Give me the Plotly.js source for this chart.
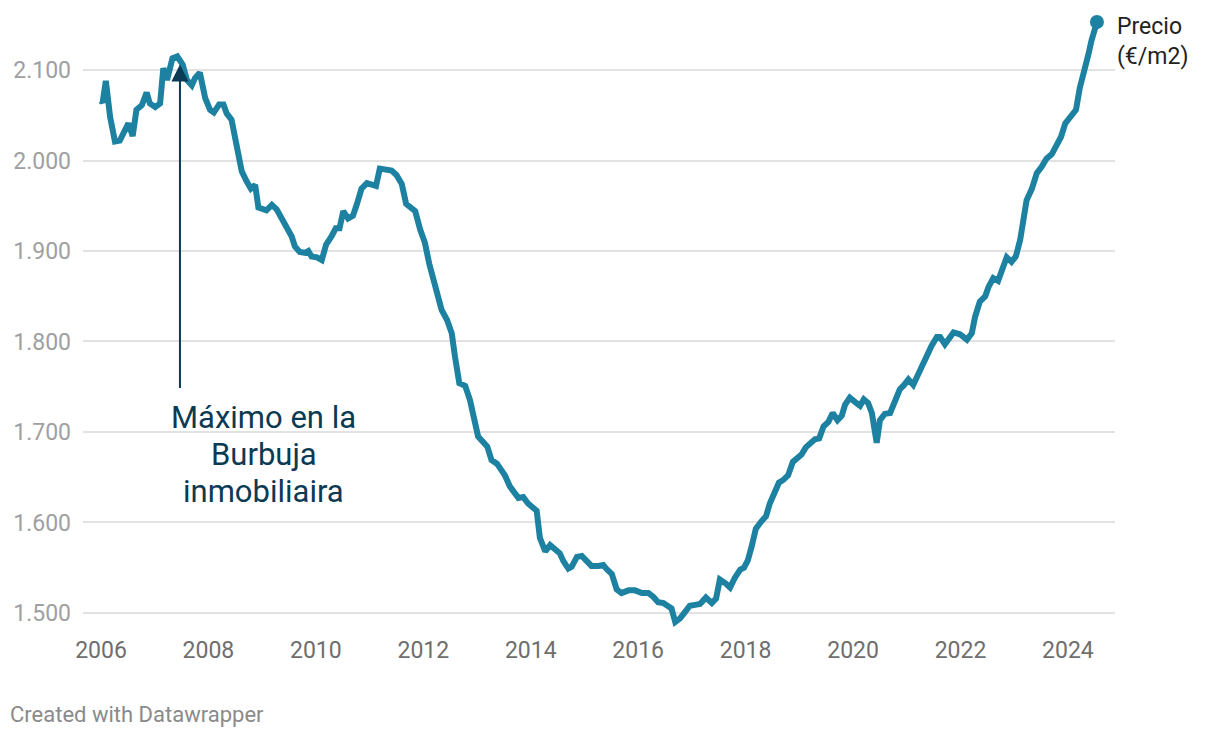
<!DOCTYPE html>
<html>
<head>
<meta charset="utf-8">
<script src="https://cdn.plot.ly/plotly-3.0.1.min.js"></script>
<style>
  html, body { margin: 0; padding: 0; background: #fff; }
  #chart { width: 1220px; height: 738px; }
</style>
</head>
<body>
<div id="chart"></div>
<script>
// Fecha (año decimal) y precio (€/m2)
const fechas = [
  2006.00, 2006.03, 2006.09, 2006.17, 2006.26, 2006.35, 2006.51, 2006.59, 2006.66, 2006.76,
  2006.85, 2006.91, 2007.01, 2007.10, 2007.16, 2007.23, 2007.33, 2007.42, 2007.52, 2007.60,
  2007.69, 2007.75, 2007.84, 2007.94, 2008.03, 2008.10, 2008.20, 2008.28, 2008.34, 2008.43,
  2008.53, 2008.62, 2008.71, 2008.79, 2008.87, 2008.93, 2009.08, 2009.18, 2009.27, 2009.39,
  2009.49, 2009.55, 2009.61, 2009.70, 2009.80, 2009.86, 2009.92, 2010.02, 2010.11, 2010.19,
  2010.29, 2010.37, 2010.44, 2010.51, 2010.60, 2010.69, 2010.76, 2010.85, 2010.95, 2011.04,
  2011.12, 2011.19, 2011.32, 2011.41, 2011.50, 2011.60, 2011.68, 2011.85, 2011.94, 2012.03,
  2012.11, 2012.19, 2012.25, 2012.34, 2012.44, 2012.53, 2012.59, 2012.67, 2012.78, 2012.87,
  2013.02, 2013.12, 2013.19, 2013.27, 2013.37, 2013.52, 2013.61, 2013.77, 2013.86, 2013.95,
  2014.11, 2014.17, 2014.27, 2014.36, 2014.45, 2014.54, 2014.61, 2014.70, 2014.76, 2014.86,
  2014.95, 2015.04, 2015.13, 2015.26, 2015.35, 2015.42, 2015.51, 2015.60, 2015.69, 2015.82,
  2015.94, 2016.07, 2016.19, 2016.28, 2016.37, 2016.47, 2016.56, 2016.62, 2016.69, 2016.78,
  2016.87, 2016.96, 2017.06, 2017.15, 2017.26, 2017.37, 2017.45, 2017.52, 2017.62, 2017.71,
  2017.80, 2017.90, 2017.97, 2018.04, 2018.11, 2018.19, 2018.29, 2018.38, 2018.45, 2018.55,
  2018.62, 2018.70, 2018.79, 2018.88, 2018.95, 2019.04, 2019.12, 2019.20, 2019.29, 2019.37,
  2019.45, 2019.54, 2019.62, 2019.71, 2019.79, 2019.85, 2019.94, 2020.04, 2020.13, 2020.20,
  2020.28, 2020.35, 2020.39, 2020.44, 2020.50, 2020.59, 2020.69, 2020.78, 2020.87, 2020.95,
  2021.03, 2021.12, 2021.20, 2021.30, 2021.37, 2021.46, 2021.56, 2021.62, 2021.71, 2021.80,
  2021.87, 2021.99, 2022.05, 2022.12, 2022.21, 2022.27, 2022.36, 2022.46, 2022.52, 2022.61,
  2022.70, 2022.77, 2022.86, 2022.95, 2023.03, 2023.11, 2023.17, 2023.23, 2023.33, 2023.42,
  2023.51, 2023.60, 2023.70, 2023.79, 2023.87, 2023.95, 2024.04, 2024.15, 2024.22, 2024.32,
  2024.38, 2024.44, 2024.54
];
const precios = [
  2066, 2064, 2088, 2048, 2021, 2022, 2041, 2027, 2056, 2061,
  2075, 2063, 2059, 2063, 2102, 2089, 2113, 2115, 2106, 2089,
  2083, 2091, 2097, 2069, 2056, 2053, 2062, 2062, 2052, 2045,
  2015, 1988, 1977, 1969, 1973, 1948, 1945, 1951, 1946, 1932,
  1923, 1916, 1905, 1899, 1898, 1900, 1894, 1893, 1890, 1907,
  1916, 1925, 1925, 1944, 1936, 1939, 1951, 1969, 1975, 1974,
  1972, 1991, 1990, 1989, 1984, 1974, 1952, 1944, 1924, 1909,
  1886, 1868, 1857, 1835, 1824, 1809, 1783, 1754, 1751, 1735,
  1695, 1689, 1684, 1669, 1665, 1652, 1640, 1627, 1628, 1621,
  1613, 1583, 1568, 1575, 1570, 1566, 1557, 1549, 1551, 1562,
  1563, 1557, 1552, 1552, 1553, 1548, 1543, 1526, 1522, 1525,
  1525, 1522, 1522, 1518, 1512, 1511, 1508, 1505, 1490, 1494,
  1501, 1508, 1509, 1510, 1517, 1511, 1516, 1537, 1533, 1528,
  1539, 1548, 1550, 1558, 1573, 1593, 1601, 1607, 1621, 1635,
  1644, 1647, 1652, 1667, 1670, 1675, 1683, 1688, 1692, 1693,
  1706, 1711, 1721, 1713, 1718, 1730, 1738, 1733, 1729, 1736,
  1732, 1721, 1706, 1688, 1713, 1720, 1721, 1733, 1747, 1752,
  1758, 1752, 1763, 1774, 1784, 1795, 1805, 1805, 1797, 1804,
  1810, 1808, 1805, 1802, 1809, 1827, 1844, 1850, 1860, 1870,
  1867, 1879, 1893, 1888, 1894, 1912, 1938, 1956, 1969, 1986,
  1993, 2002, 2007, 2017, 2026, 2041, 2048, 2056, 2080, 2100,
  2117, 2133, 2153
];
const yTicks = [1500, 1600, 1700, 1800, 1900, 2000, 2100];
const yTickLabels = ["1.500", "1.600", "1.700", "1.800", "1.900", "2.000", "2.100"];
const xTicks = [2006, 2008, 2010, 2012, 2014, 2016, 2018, 2020, 2022, 2024];
const xTickLabels = ["2006", "2008", "2010", "2012", "2014", "2016", "2018", "2020", "2022", "2024"];
const serieNombre = "Precio<br>(€/m2)";
const anotacionLineas = ["Máximo en la", "Burbuja", "inmobiliaira"];
const picoFecha = 2007.47, picoPrecio = 2106, flechaBase = 1747;

const lineColor = "#1d81a2";
const navy = "#0b3a53";
const FONT = "Roboto, 'Noto Sans', sans-serif";

const traces = [
  {
    x: fechas, y: precios, type: "scatter", mode: "lines",
    line: { color: lineColor, width: 6 },
    hoverinfo: "skip", showlegend: false
  },
  {
    x: [fechas[fechas.length - 1]], y: [precios[precios.length - 1]],
    type: "scatter", mode: "markers",
    marker: { color: lineColor, size: 14 },
    hoverinfo: "skip", showlegend: false, cliponaxis: false
  }
];

const annotations = [
  {
    x: picoFecha, y: picoPrecio, xref: "x", yref: "y",
    ax: picoFecha, ay: flechaBase, axref: "x", ayref: "y",
    showarrow: true, arrowhead: 2, arrowsize: 1.7, arrowwidth: 2,
    arrowcolor: navy, text: "", standoff: 0
  },
  {
    x: 1, y: 0.95, xref: "paper", yref: "paper",
    text: serieNombre, showarrow: false, xanchor: "left", yanchor: "middle",
    xshift: 0, align: "left", font: { family: FONT, size: 23, color: "#222222" }
  },
  {
    x: 0, y: 0, xref: "paper", yref: "paper",
    text: "Created with Datawrapper", showarrow: false,
    xanchor: "left", yanchor: "middle", xshift: -75, yshift: -84,
    font: { family: FONT, size: 22, color: "#8a8a8a" }
  }
];
const lineYs = [1715.5, 1674.6, 1633.7];
anotacionLineas.forEach((t, i) => {
  annotations.push({
    x: 2009.03, y: lineYs[i], xref: "x", yref: "y",
    text: t, showarrow: false, xanchor: "center", yanchor: "middle",
    font: { family: FONT, size: 31, color: navy }
  });
});

const layout = {
  width: 1220, height: 738,
  margin: { l: 83, r: 105, t: 10, b: 108 },
  paper_bgcolor: "#ffffff", plot_bgcolor: "#ffffff",
  font: { family: FONT },
  showlegend: false,
  xaxis: {
    range: [2005.665, 2024.876],
    tickvals: xTicks, ticktext: xTickLabels,
    showgrid: false, zeroline: false, showline: false, ticks: "",
    tickfont: { family: FONT, size: 23, color: "#6e6e6e" },
    ticklabelstandoff: 4
  },
  yaxis: {
    range: [1481.2, 2166.3],
    tickvals: yTicks, ticktext: yTickLabels,
    showgrid: true, gridcolor: "#e2e2e2", gridwidth: 2,
    zeroline: false, showline: false, ticks: "",
    tickfont: { family: FONT, size: 23, color: "#a0a0a0" },
    ticklabelstandoff: 11
  },
  annotations: annotations
};

Plotly.newPlot("chart", traces, layout, { staticPlot: true, displayModeBar: false });
</script>
</body>
</html>
